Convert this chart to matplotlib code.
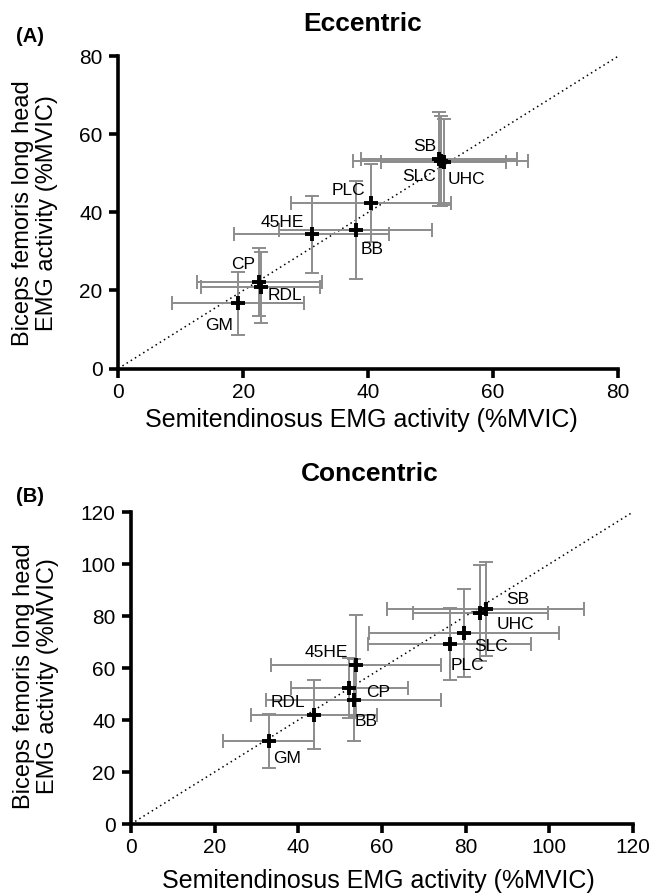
import matplotlib
matplotlib.use("Agg")
import matplotlib.pyplot as plt
import numpy as np

plt.rcParams['font.family'] = ['Liberation Sans', 'DejaVu Sans']

# Eccentric (A)
ecc_labels = ["GM", "CP", "RDL", "45HE", "BB", "PLC", "SB", "SLC", "UHC"]
ecc_st = [19.2, 22.6, 22.8, 31.0, 38.0, 40.5, 51.4, 51.6, 52.1]
ecc_st_err = [10.6, 10.0, 9.5, 12.4, 12.3, 12.8, 12.5, 14.0, 10.0]
ecc_bf = [16.7, 22.1, 20.8, 34.4, 35.5, 42.5, 53.7, 53.2, 53.0]
ecc_bf_err = [8.1, 8.7, 9.1, 9.9, 12.6, 10.0, 12.0, 11.5, 11.0]
ecc_text_x = [16.2, 20.0, 26.7, 26.2, 40.6, 36.9, 49.1, 48.1, 55.8]
ecc_text_y = [11.1, 26.7, 18.8, 37.4, 30.5, 45.5, 56.8, 49.3, 48.5]

# Concentric (B)
con_labels = ["GM", "RDL", "BB", "CP", "45HE", "PLC", "SLC", "UHC", "SB"]
con_st = [32.9, 43.8, 53.2, 52.2, 53.8, 76.2, 79.6, 83.5, 84.8]
con_st_err = [10.8, 15.1, 21.0, 14.0, 20.4, 19.5, 22.6, 16.1, 23.6]
con_bf = [31.9, 42.1, 47.8, 52.4, 61.0, 69.1, 73.6, 81.2, 82.7]
con_bf_err = [10.3, 13.2, 15.7, 11.5, 19.4, 13.8, 16.9, 18.4, 18.1]
con_text_x = [37.4, 37.6, 56.2, 59.0, 46.6, 80.5, 86.0, 92.0, 92.4]
con_text_y = [25.1, 46.9, 39.6, 50.5, 65.9, 61.0, 68.1, 76.8, 86.3]

XLABEL = "Semitendinosus EMG activity (%MVIC)"
YLABEL = "Biceps femoris long head\nEMG activity (%MVIC)"

W, H = 651, 894
fig = plt.figure(figsize=(W / 100, H / 100), dpi=100)

def fx(px):
    return px / W

def fy(py):
    return 1 - py / H

def px_axes(x0, x1, y0, y1):
    return fig.add_axes([x0 / W, 1 - y0 / H, (x1 - x0) / W, (y0 - y1) / H])

axA = px_axes(118.3, 618, 368.5, 56.3)
axB = px_axes(131, 633, 824, 512)

def draw(ax, st, st_err, bf, bf_err, labels, tx, ty, lim, step):
    ax.plot([0, lim], [0, lim], linestyle=(0, (1, 2.2)), color='black', lw=1.1, zorder=1)
    ax.errorbar(st, bf, xerr=st_err, yerr=bf_err, fmt='none', ecolor='#8c8c8c',
                elinewidth=1.4, capsize=5, capthick=1.4, zorder=2)
    ax.plot(st, bf, linestyle='none', marker='+', color='black', markersize=9.5,
            markeredgewidth=2.8, zorder=3)
    for lab, x, y in zip(labels, tx, ty):
        ax.text(x, y, lab, ha='center', va='center', fontsize=12.5, color='black', zorder=4)
    ax.set_xlim(0, lim)
    ax.set_ylim(0, lim)
    ax.set_xticks(np.arange(0, lim + 1, step))
    ax.set_yticks(np.arange(0, lim + 1, step))
    for s in ['top', 'right']:
        ax.spines[s].set_visible(False)
    for s in ['left', 'bottom']:
        ax.spines[s].set_linewidth(2.6)
        ax.spines[s].set_capstyle('projecting')
    ax.tick_params(width=2.6, length=6.2, labelsize=15, direction='out')
    ax.tick_params(axis='x', pad=4)
    ax.tick_params(axis='y', pad=5)
    ax.patch.set_alpha(0)

draw(axA, ecc_st, ecc_st_err, ecc_bf, ecc_bf_err, ecc_labels, ecc_text_x, ecc_text_y, 80, 20)
draw(axB, con_st, con_st_err, con_bf, con_bf_err, con_labels, con_text_x, con_text_y, 120, 20)

# panel A texts
fig.text(fx(16), fy(36), "(A)", fontsize=14.5, fontweight='bold', va='center', ha='left')
fig.text(fx(363), fy(24), "Eccentric", fontsize=19, fontweight='bold', va='center', ha='center')
fig.text(fx(361), fy(427), XLABEL, fontsize=18, va='baseline', ha='center')
fig.text(fx(35), fy(213), YLABEL, fontsize=17, va='center', ha='center', rotation=90,
         multialignment='center', linespacing=1.15)

# panel B texts
fig.text(fx(16), fy(497), "(B)", fontsize=14.5, fontweight='bold', va='center', ha='left')
fig.text(fx(370), fy(474), "Concentric", fontsize=19, fontweight='bold', va='center', ha='center')
fig.text(fx(378), fy(888), XLABEL, fontsize=18, va='baseline', ha='center')
fig.text(fx(36), fy(676), YLABEL, fontsize=17, va='center', ha='center', rotation=90,
         multialignment='center', linespacing=1.15)

fig.savefig("out.png", dpi=100)
